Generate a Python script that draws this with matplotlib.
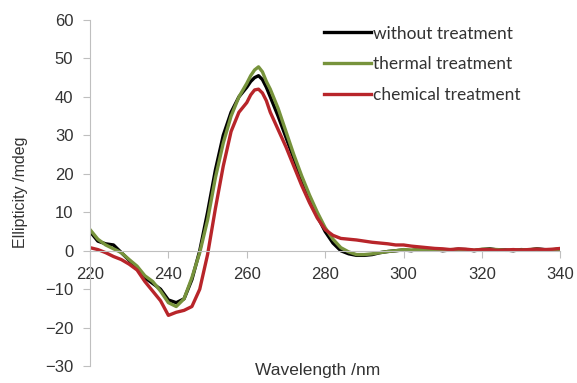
import matplotlib

matplotlib.use("Agg")
import matplotlib.pyplot as plt

# wavelength grid (nm), finer around the peak
wavelength = list(range(220, 260, 2)) + [260, 261, 262, 263, 264, 265] + list(range(266, 342, 2))

without_treatment = [
    5.0, 2.5, 1.8, 1.5, -0.5, -2.5, -4.5, -7.0, -8.5, -10.0,
    -12.8, -13.5, -12.5, -7.5, 0.0, 10.0, 21.0, 30.0, 36.0, 40.0,
    42.5, 44.0, 45.0, 45.5, 44.5, 42.5,
    40.0, 35.0, 29.5, 24.0, 18.5, 13.5, 9.0, 5.0, 2.0, 0.0,
    -0.8, -1.2, -1.2, -1.0, -0.5, -0.2, 0.0, 0.2, 0.0, 0.4,
    0.5, 0.3, 0.0, 0.2, 0.4, 0.3, 0.0, 0.3, 0.5, 0.2,
    0.2, 0.0, 0.3, 0.2, 0.5, 0.3, 0.2, 0.5,
]
thermal_treatment = [
    5.5, 3.0, 1.5, 0.5, -0.5, -2.3, -4.0, -6.5, -8.0, -10.5,
    -13.5, -14.5, -12.5, -7.0, -0.5, 8.0, 19.0, 28.0, 35.0, 40.0,
    43.5, 45.5, 47.0, 47.8, 46.5, 44.0,
    42.0, 37.0, 31.0, 25.0, 19.5, 14.5, 10.0, 6.0, 3.0, 0.8,
    -0.3, -1.0, -1.0, -0.8, -0.5, -0.2, 0.0, 0.3, 0.2, 0.3,
    0.4, 0.2, 0.1, 0.3, 0.3, 0.2, 0.1, 0.4, 0.4, 0.3,
    0.1, 0.1, 0.2, 0.3, 0.4, 0.2, 0.3, 0.4,
]
chemical_treatment = [
    0.8, 0.3, -0.5, -1.5, -2.3, -3.5, -5.0, -8.0, -10.5, -13.0,
    -16.8, -16.0, -15.5, -14.5, -10.0, -1.0, 11.0, 22.0, 31.0, 36.0,
    38.5, 40.5, 41.8, 42.0, 41.0, 39.0,
    36.0, 31.5, 27.0, 22.0, 17.0, 12.5, 8.5, 5.5, 4.0, 3.2,
    3.0, 2.8, 2.5, 2.2, 2.0, 1.8, 1.5, 1.5, 1.2, 1.0,
    0.8, 0.6, 0.5, 0.3, 0.5, 0.4, 0.2, 0.3, 0.3, 0.1,
    0.2, 0.3, 0.2, 0.3, 0.4, 0.3, 0.4, 0.6,
]

series = [
    ("without treatment", without_treatment, "#000000"),
    ("thermal treatment", thermal_treatment, "#77933C"),
    ("chemical treatment", chemical_treatment, "#B8252A"),
]
x_ticks = [220, 240, 260, 280, 300, 320, 340]
y_ticks = [-30, -20, -10, 0, 10, 20, 30, 40, 50, 60]

plt.rcParams["font.family"] = ["Liberation Sans", "DejaVu Sans"]
text_color = "#333333"

fig = plt.figure(figsize=(5.77, 3.83), dpi=100)
ax = fig.add_axes([0.156, 0.044, 0.815, 0.904])

for label, values, color in series:
    ax.plot(wavelength, values, color=color, linewidth=2.4, label=label)

ax.set_xlim(220, 340)
ax.set_ylim(-30, 60)
ax.set_xticks(x_ticks)
ax.set_yticks(y_ticks)

grey = "#BFBFBF"
ax.spines["top"].set_visible(False)
ax.spines["right"].set_visible(False)
ax.spines["left"].set_color(grey)
ax.spines["bottom"].set_color(grey)
ax.spines["bottom"].set_position(("data", 0))
ax.tick_params(axis="both", colors=grey, labelcolor=text_color, labelsize=12, length=5, width=0.8)
ax.tick_params(axis="x", pad=7)
ax.tick_params(axis="y", pad=7)

fig.text(0.551, 0.012, "Wavelength /nm", ha="center", va="bottom", fontsize=12.5, color=text_color)
fig.text(0.035, 0.499, "Ellipticity /mdeg", ha="center", va="center", rotation=90, fontsize=11.5, color=text_color)

leg = ax.legend(
    loc="upper left",
    bbox_to_anchor=(0.546, 0.956),
    bbox_transform=fig.transFigure,
    frameon=False,
    prop={"family": "Lato", "size": 12.5},
    handlelength=2.7,
    handletextpad=0.15,
    labelspacing=0.86,
    borderpad=0,
)
for t in leg.get_texts():
    t.set_color(text_color)

fig.savefig("out.png", dpi=100)
